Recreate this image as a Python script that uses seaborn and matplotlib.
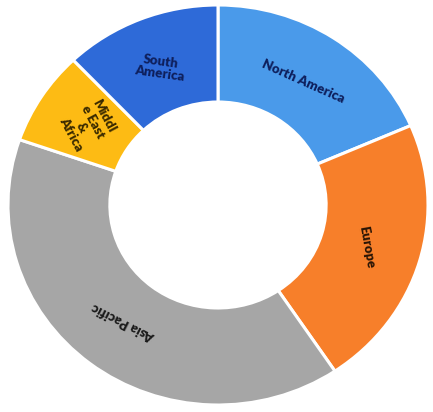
import seaborn as sns
import matplotlib
matplotlib.use("Agg")
from matplotlib import pyplot as plt

regions = ['North America', 'Europe', 'Asia Pacific', 'Middl\ne East\n&\nAfrica', 'South\nAmerica']
share = [18.5, 22.1, 39.7, 7.6, 12.1]
colors = ['#4A9AEA', '#F77F2A', '#A6A6A6', '#FDBB14', '#2E6AD8']
text_colors = ['#0E1F5C', '#2A1505', '#1A1A1A', '#3A2A00', '#0E1F5C']
rotations = [-24, -80, 153, -62, -8]

sns.set_theme(style='white')
plt.rcParams['font.family'] = ['Lato', 'DejaVu Sans']

fig = plt.figure(figsize=(4.33, 4.12), dpi=100)
ax = fig.add_axes([0, 0, 1, 1])

wedges, texts = ax.pie(share, labels=regions, colors=colors, startangle=90,
                       counterclock=False, radius=1.0, labeldistance=0.74,
                       wedgeprops=dict(width=0.485, edgecolor='white', linewidth=2.2),
                       textprops=dict(fontsize=9.5, fontweight='heavy',
                                      ha='center', va='center'))

for t, c, r in zip(texts, text_colors, rotations):
    t.set_color(c)
    t.set_rotation(r)
    t.set_ha('center')
    t.set_va('center')
    t.set_rotation_mode('anchor')
    t.set_linespacing(1.05)

# centre sits near (218, 205) px; ring is ~210 px wide-radius, ~200 px tall-radius
ax.set_xlim(-218 / 210, (433 - 218) / 210)
ax.set_ylim(-(412 - 205) / 200, 205 / 200)
ax.set_aspect('auto')
ax.axis('off')

fig.savefig('out.png', dpi=100, facecolor='white')
